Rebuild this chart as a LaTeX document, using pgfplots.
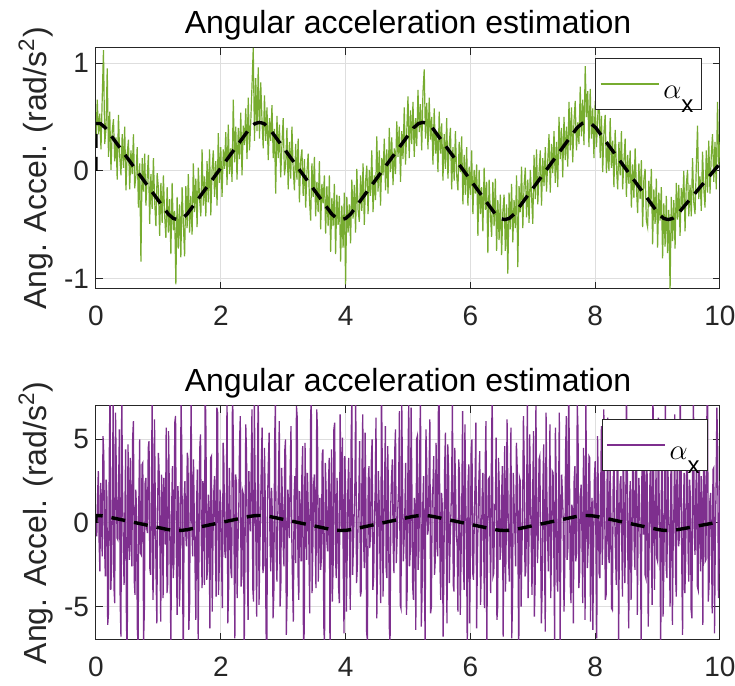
\documentclass[border=0pt]{standalone}
\usepackage{fontspec}
\setmainfont{Liberation Sans}
\usepackage{pgfplots}
\pgfplotsset{compat=1.18}
\definecolor{mgreen}{rgb}{0.466,0.674,0.188}
\definecolor{mpurple}{rgb}{0.494,0.184,0.556}
\definecolor{axgray}{RGB}{38,38,38}
\pgfplotsset{
  mystyle/.style={
    scale only axis, width=312pt, xmin=0, xmax=10,
    xtick={0,2,4,6,8,10}, xticklabels={0,2,4,6,8,10},
    axis line style={axgray, line width=0.5pt},
    tick style={axgray, line width=0.5pt},
    major tick length=3.5pt,
    tick align=inside,
    grid=major, major grid style={black!13, line width=0.5pt},
    tick label style={font=\fontsize{14}{16}\selectfont, text=axgray},
    xticklabel style={yshift=-5pt},
    title style={font=\fontsize{16}{19}\selectfont, at={(0.5,1)}, anchor=base, yshift=1pt},
    ylabel style={font=\fontsize{16}{19}\selectfont, text=axgray, at={([xshift=-30pt]rel axis cs:0,0.5)}, anchor=center},
    ylabel={Ang. Accel. (rad/s\textsuperscript{2})},
    title={Angular acceleration estimation},
    legend cell align=left,
    legend style={font=\fontsize{14}{16}\selectfont, draw=axgray, line width=0.5pt, inner xsep=2pt, inner ysep=2pt, nodes={inner sep=2pt}, anchor=north east},
    legend image code/.code={\draw[#1, line width=0.7pt] (0pt,0pt) -- (29pt,0pt);},
  }
}
\newcommand{\alx}{\rule[-10pt]{0pt}{26pt}$\alpha$\raisebox{-7pt}{\fontsize{12}{12}\selectfont x}}
\begin{document}
\begin{tikzpicture}
% ---------------- top axis ----------------
\begin{axis}[mystyle, at={(0,175.5pt)}, anchor=south west, height=120.5pt,
  ymin=-1.093, ymax=1.139, ytick={-1,0,1}, yticklabels={-1,0,1},
  legend style={at={(0.971,0.959)}}]
\addplot[mgreen, line width=0.6pt] table {
x y
0.00 0.30
0.02 0.66
0.04 0.34
0.06 0.53
0.08 0.20
0.10 0.68
0.12 1.12
0.14 0.25
0.16 0.39
0.18 0.95
0.20 0.13
0.22 0.55
0.24 0.01
0.26 0.37
0.28 0.48
0.30 0.09
0.32 0.31
0.34 -0.08
0.36 0.52
0.38 0.14
0.40 -0.04
0.42 0.34
0.44 0.03
0.46 0.41
0.48 -0.18
0.50 0.16
0.52 0.29
0.54 -0.17
0.56 0.19
0.58 -0.03
0.60 0.34
0.62 -0.16
0.64 -0.04
0.66 0.22
0.68 -0.34
0.70 0.07
0.72 -0.84
0.74 0.12
0.76 -0.19
0.78 0.16
0.80 -0.32
0.82 -0.06
0.84 0.15
0.86 -0.49
0.88 -0.03
0.90 -0.35
0.92 0.12
0.94 -0.28
0.96 -0.51
0.98 -0.02
1.00 -0.16
1.02 -0.60
1.04 -0.11
1.06 -0.48
1.08 -0.04
1.10 -0.41
1.12 -0.62
1.14 -0.15
1.16 -0.57
1.18 -0.26
1.20 -0.77
1.22 -0.11
1.24 -0.55
1.26 -0.37
1.28 -1.05
1.30 -0.24
1.32 -0.72
1.34 -0.31
1.36 -0.80
1.38 -0.15
1.40 -0.49
1.42 -0.79
1.44 -0.14
1.46 -0.53
1.48 -0.03
1.50 -0.57
1.52 -0.23
1.54 -0.59
1.56 0.07
1.58 -0.38
1.60 -0.07
1.62 -0.52
1.64 0.03
1.66 -0.26
1.68 -0.42
1.70 0.20
1.72 -0.32
1.74 -0.05
1.76 -0.42
1.78 0.09
1.80 -0.29
1.82 0.20
1.84 -0.41
1.86 0.01
1.88 0.19
1.90 -0.24
1.92 0.09
1.94 -0.32
1.96 0.35
1.98 -0.11
2.00 0.22
2.02 -0.24
2.04 0.20
2.06 0.02
2.08 0.36
2.10 -0.13
2.12 0.43
2.14 -0.03
2.16 0.21
2.18 -0.10
2.20 0.66
2.22 0.08
2.24 0.41
2.26 -0.08
2.28 0.40
2.30 0.11
2.32 0.54
2.34 -0.04
2.36 0.42
2.38 0.24
2.40 0.58
2.42 0.11
2.44 0.68
2.46 0.19
2.48 0.45
2.50 0.79
2.52 1.14
2.54 0.28
2.56 0.86
2.58 0.37
2.60 0.96
2.62 0.30
2.64 0.82
2.66 0.47
2.68 0.21
2.70 0.70
2.72 0.28
2.74 0.59
2.76 0.10
2.78 0.49
2.80 0.28
2.82 0.61
2.84 0.12
2.86 0.39
2.88 -0.21
2.90 0.51
2.92 0.12
2.94 0.43
2.96 -0.06
2.98 0.25
3.00 0.49
3.02 -0.04
3.04 0.06
3.06 0.40
3.08 -0.17
3.10 0.27
3.12 -0.07
3.14 0.41
3.16 0.03
3.18 -0.18
3.20 0.25
3.22 -0.08
3.24 0.30
3.26 -0.29
3.28 0.10
3.30 0.20
3.32 -0.23
3.34 0.11
3.36 -0.34
3.38 -0.02
3.40 0.16
3.42 -0.25
3.44 -0.46
3.46 0.07
3.48 -0.24
3.50 0.13
3.52 -0.42
3.54 -0.10
3.56 -0.38
3.58 0.09
3.60 -0.54
3.62 -0.12
3.64 -0.30
3.66 -0.04
3.68 -0.58
3.70 -0.14
3.72 -0.51
3.74 -0.04
3.76 -0.75
3.78 -0.25
3.80 -0.51
3.82 -0.12
3.84 -0.77
3.86 -0.22
3.88 -0.50
3.90 -0.23
3.92 -0.84
3.94 -0.32
3.96 -0.71
3.98 -0.20
4.00 -1.05
4.02 -0.24
4.04 -0.57
4.06 -0.31
4.08 -0.67
4.10 -0.08
4.12 -0.44
4.14 -0.13
4.16 -0.57
4.18 0.02
4.20 -0.36
4.22 -0.47
4.24 -0.04
4.26 -0.37
4.28 0.07
4.30 -0.50
4.32 -0.10
4.34 0.05
4.36 -0.40
4.38 0.01
4.40 -0.23
4.42 0.19
4.44 -0.38
4.46 -0.04
4.48 -0.27
4.50 0.32
4.52 -0.19
4.54 0.19
4.56 -0.32
4.58 0.12
4.60 -0.04
4.62 0.30
4.64 -0.18
4.66 0.20
4.68 -0.21
4.70 0.40
4.72 -0.01
4.74 0.31
4.76 -0.13
4.78 0.21
4.80 -0.03
4.82 0.46
4.84 0.13
4.86 0.41
4.88 -0.10
4.90 0.37
4.92 0.11
4.94 0.59
4.96 0.06
4.98 0.37
5.00 0.69
5.02 0.12
5.04 0.56
5.06 0.25
5.08 0.64
5.10 0.13
5.12 0.49
5.14 0.23
5.16 0.75
5.18 0.36
5.20 0.62
5.22 0.19
5.24 0.73
5.26 0.94
5.28 0.30
5.30 0.63
5.32 0.20
5.34 0.68
5.36 0.29
5.38 0.50
5.40 0.06
5.42 0.58
5.44 0.16
5.46 0.35
5.48 -0.01
5.50 0.55
5.52 0.16
5.54 0.44
5.56 -0.09
5.58 0.34
5.60 0.02
5.62 0.49
5.64 -0.07
5.66 0.24
5.68 0.40
5.70 -0.17
5.72 0.22
5.74 -0.09
5.76 0.37
5.78 -0.04
5.80 -0.18
5.82 0.27
5.84 -0.01
5.86 0.32
5.88 -0.31
5.90 0.15
5.92 -0.22
5.94 0.22
5.96 -0.32
5.98 0.04
6.00 -0.22
6.02 0.19
6.04 -0.40
6.06 0.01
6.08 -0.21
6.10 0.06
6.12 -0.60
6.14 0.01
6.16 -0.40
6.18 -0.15
6.20 -0.56
6.22 0.03
6.24 -0.36
6.26 -0.10
6.28 -0.76
6.30 -0.08
6.32 -0.39
6.34 -0.61
6.36 -0.10
6.38 -0.51
6.40 -0.07
6.42 -0.74
6.44 -0.27
6.46 -0.64
6.48 -0.22
6.50 -0.78
6.52 -0.38
6.54 -0.22
6.56 -0.74
6.58 -0.31
6.60 -0.95
6.62 -0.20
6.64 -0.54
6.66 -0.12
6.68 -0.66
6.70 -0.27
6.72 -0.53
6.74 -0.04
6.76 -0.89
6.78 -0.14
6.80 -0.38
6.82 0.04
6.84 -0.53
6.86 -0.14
6.88 0.03
6.90 -0.43
6.92 -0.08
6.94 -0.48
6.96 0.01
6.98 -0.23
7.00 -0.49
7.02 0.15
7.04 -0.26
7.06 0.20
7.08 -0.31
7.10 -0.02
7.12 0.19
7.14 -0.32
7.16 0.12
7.18 -0.14
7.20 0.22
7.22 -0.19
7.24 0.10
7.26 0.34
7.28 -0.20
7.30 0.25
7.32 -0.02
7.34 0.37
7.36 -0.11
7.38 0.27
7.40 -0.15
7.42 0.50
7.44 0.11
7.46 0.40
7.48 -0.06
7.50 0.50
7.52 0.10
7.54 0.41
7.56 0.04
7.58 0.64
7.60 0.19
7.62 0.59
7.64 0.08
7.66 0.46
7.68 0.65
7.70 0.19
7.72 0.45
7.74 0.25
7.76 0.78
7.78 0.32
7.80 0.66
7.82 0.24
7.84 0.97
7.86 0.50
7.88 0.74
7.90 0.22
7.92 0.76
7.94 0.30
7.96 0.58
7.98 0.12
8.00 0.65
8.02 0.22
8.04 0.48
8.06 0.79
8.08 0.12
8.10 0.51
8.12 -0.01
8.14 0.36
8.16 0.52
8.18 -0.02
8.20 0.27
8.22 0.00
8.24 0.49
8.26 0.03
8.28 0.28
8.30 -0.15
8.32 0.38
8.34 0.04
8.36 -0.17
8.38 0.27
8.40 -0.04
8.42 0.37
8.44 -0.17
8.46 0.09
8.48 0.30
8.50 -0.24
8.52 0.15
8.54 -0.12
8.56 0.19
8.58 -0.34
8.60 0.06
8.62 -0.25
8.64 0.21
8.66 -0.15
8.68 -0.39
8.70 0.07
8.72 -0.26
8.74 0.10
8.76 -0.52
8.78 -0.08
8.80 0.02
8.82 -0.46
8.84 -0.52
8.86 -0.09
8.88 -0.33
8.90 0.02
8.92 -0.68
8.94 -0.17
8.96 -0.49
8.98 -0.07
9.00 -0.71
9.02 -0.20
9.04 -0.46
9.06 -0.15
9.08 -0.81
9.10 -0.30
9.12 -0.70
9.14 -0.23
9.16 -0.76
9.18 -0.36
9.20 -1.11
9.22 -0.24
9.24 -0.65
9.26 -0.27
9.28 -0.72
9.30 -0.11
9.32 -0.45
9.34 -0.13
9.36 -0.60
9.38 -0.16
9.40 -0.34
9.42 0.00
9.44 -0.56
9.46 -0.13
9.48 0.01
9.50 -0.42
9.52 -0.13
9.54 -0.42
9.56 0.12
9.58 -0.29
9.60 -0.40
9.62 0.04
9.64 0.42
9.66 -0.26
9.68 -0.05
9.70 -0.37
9.72 0.18
9.74 -0.16
9.76 -0.34
9.78 0.19
9.80 -0.20
9.82 0.28
9.84 -0.21
9.86 0.14
9.88 0.34
9.90 -0.10
9.92 0.27
9.94 -0.17
9.96 0.64
9.98 0.06
10.00 0.27
};
\addlegendentry{\alx}
\addplot[black, line width=1.7pt, dash pattern=on 7pt off 4.5pt, forget plot] coordinates {
(0,0) (0,0.44) (0.07,0.44) (0.15,0.40)
(1.16,-0.40) (1.24,-0.44) (1.31,-0.45) (1.38,-0.44) (1.46,-0.40)
(2.47,0.40) (2.55,0.44) (2.62,0.45) (2.69,0.44) (2.77,0.40)
(3.78,-0.40) (3.86,-0.44) (3.93,-0.45) (4.00,-0.44) (4.08,-0.40)
(5.09,0.40) (5.17,0.44) (5.24,0.45) (5.31,0.44) (5.39,0.40)
(6.40,-0.40) (6.48,-0.44) (6.55,-0.45) (6.62,-0.44) (6.70,-0.40)
(7.71,0.40) (7.79,0.44) (7.86,0.45) (7.93,0.44) (8.01,0.40)
(9.02,-0.40) (9.10,-0.44) (9.17,-0.45) (9.24,-0.44) (9.32,-0.40)
(10,0.07)
};
\end{axis}
% ---------------- bottom axis ----------------
\begin{axis}[mystyle, at={(0,0)}, anchor=south west, height=117pt,
  ymin=-7, ymax=7, ytick={-5,0,5}, yticklabels={-5,0,5},
  legend style={at={(0.981,0.944)}}]
\addplot[mpurple, line width=0.65pt] coordinates {
(0,0.3) (0.0125,-0.8) (0.025,1.6) (0.0375,3.1) (0.05,-1.1) (0.0625,-2.9) (0.075,2.4) (0.0875,0.7) (0.1,-2.0) (0.1125,5.2) (0.125,4.1) (0.1375,-1.4) (0.15,-3.2) (0.1625,2.6) (0.175,1.5) (0.1875,-6.1) (0.2,-5.4) (0.2125,3.7) (0.225,8.2) (0.2375,-4.0)
(0.25,-2.5) (0.2625,1.2) (0.275,7.5) (0.2875,-3.8) (0.3,-4.8) (0.3125,6.6) (0.325,3.3) (0.3375,-0.9) (0.35,-1.0) (0.3625,2.3) (0.375,5.6) (0.3875,-4.7) (0.4,-6.8) (0.4125,7.9) (0.425,2.2) (0.4375,-1.5) (0.45,-3.7) (0.4625,0.4) (0.475,4.4) (0.4875,-5.6)
(0.5,-8.5) (0.5125,4.7) (0.525,1.8) (0.5375,-2.2) (0.55,3.9) (0.5625,-0.5) (0.575,-2.6) (0.5875,5.1) (0.6,6.1) (0.6125,-3.4) (0.625,-4.3) (0.6375,2.0) (0.65,0.8) (0.6625,-6.3) (0.675,-7.4) (0.6875,1.6) (0.7,5.0) (0.7125,-1.8) (0.725,-1.9) (0.7375,3.5)
(0.75,3.6) (0.7625,-7.1) (0.775,-5.2) (0.7875,2.4) (0.8,2.7) (0.8125,-0.3) (0.825,-0.6) (0.8375,4.5) (0.85,4.9) (0.8625,-2.7) (0.875,-3.1) (0.8875,1.0) (0.9,7.8) (0.9125,-4.6) (0.925,-2.4) (0.9375,6.2) (0.95,1.3) (0.9625,-3.0) (0.975,-6.0) (0.9875,0.9)
(1,4.2) (1.0125,3.0) (1.025,-1.7) (1.0375,-5.9) (1.05,2.9) (1.0625,1.5) (1.075,-4.5) (1.0875,2.7) (1.1,0.9) (1.1125,-1.3) (1.125,5.7) (1.1375,-4.2) (1.15,-3.6) (1.1625,5.5) (1.175,2.0) (1.1875,-2.1) (1.2,-7.6) (1.2125,0.8) (1.225,3.4) (1.2375,-3.3)
(1.25,-2.3) (1.2625,6.0) (1.275,6.4) (1.2875,-1.8) (1.3,-5.5) (1.3125,2.2) (1.325,1.1) (1.3375,-5.0) (1.35,-3.0) (1.3625,7.3) (1.375,4.6) (1.3875,-3.1) (1.4,-8.8) (1.4125,1.4) (1.425,2.5) (1.4375,-0.6) (1.45,-1.4) (1.4625,4.2) (1.475,3.8) (1.4875,-6.4)
(1.5,-4.9) (1.5125,2.9) (1.525,7.2) (1.5375,-0.4) (1.55,-2.0) (1.5625,3.8) (1.575,0.4) (1.5875,-2.6) (1.6,-5.8) (1.6125,1.2) (1.625,3.2) (1.6375,-7.0) (1.65,-1.6) (1.6625,4.4) (1.675,5.3) (1.6875,-1.0) (1.7,-3.9) (1.7125,2.5) (1.725,2.1) (1.7375,-3.7)
(1.75,8.4) (1.7625,5.3) (1.775,-3.4) (1.7875,-2.8) (1.8,1.7) (1.8125,0.6) (1.825,-6.3) (1.8375,3.9) (1.85,4.0) (1.8625,-5.3) (1.875,-0.8) (1.8875,1.8) (1.9,2.8) (1.9125,-1.1) (1.925,-4.4) (1.9375,6.9) (1.95,6.6) (1.9625,-4.3) (1.975,-2.7) (1.9875,2.0)
(2,1.0) (2.0125,-2.4) (2.025,-5.1) (2.0375,4.8) (2.05,3.5) (2.0625,-1.6) (2.075,-2.1) (2.0875,0.5) (2.1,7.7) (2.1125,-6.0) (2.125,-4.0) (2.1375,3.3) (2.15,0.6) (2.1625,-2.9) (2.175,-3.3) (2.1875,8.1) (2.2,5.2) (2.2125,-1.2) (2.225,-6.9) (2.2375,2.9)
(2.25,2.4) (2.2625,-4.5) (2.275,-1.2) (2.2875,0.3) (2.3,4.7) (2.3125,6.4) (2.325,-3.8) (2.3375,-3.2) (2.35,1.9) (2.3625,1.7) (2.375,-7.9) (2.3875,-2.0) (2.4,5.9) (2.4125,4.1) (2.425,-2.6) (2.4375,-5.8) (2.45,3.1) (2.4625,0.9) (2.475,-0.5) (2.4875,3.4)
(2.5,6.8) (2.5125,-3.9) (2.525,-4.7) (2.5375,7.4) (2.55,2.3) (2.5625,-1.1) (2.575,-5.6) (2.5875,2.6) (2.6,8.6) (2.6125,-4.9) (2.625,-1.8) (2.6375,0.7) (2.65,3.7) (2.6625,5.7) (2.675,-3.0) (2.6875,-2.5) (2.7,4.5) (2.7125,1.3) (2.725,-6.5) (2.7375,-7.5)
(2.75,1.4) (2.7625,3.6) (2.775,5.4) (2.7875,-0.8) (2.8,-2.9) (2.8125,2.1) (2.825,0.7) (2.8375,-5.7) (2.85,-4.2) (2.8625,4.9) (2.875,7.1) (2.8875,-1.9) (2.9,-3.5) (2.9125,0.2) (2.925,2.6) (2.9375,6.1) (2.95,-5.0) (2.9625,-3.6) (2.975,3.3) (2.9875,1.4)
(3,-1.3) (3.0125,-2.6) (3.025,4.3) (3.0375,5.0) (3.05,-6.7) (3.0625,-4.4) (3.075,2.0) (3.0875,1.1) (3.1,-0.9) (3.1125,3.2) (3.125,5.8) (3.1375,-0.7) (3.15,-3.7) (3.1625,-5.9) (3.175,1.6) (3.1875,2.8) (3.2,-2.4) (3.2125,7.0) (3.225,6.3) (3.2375,-3.0)
(3.25,-4.6) (3.2625,1.9) (3.275,0.5) (3.2875,-2.3) (3.3,3.0) (3.3125,4.6) (3.325,-7.3) (3.3375,-6.5) (3.35,4.8) (3.3625,0.8) (3.375,-2.2) (3.3875,3.0) (3.4,1.1) (3.4125,-1.4) (3.425,-5.4) (3.4375,5.9) (3.45,7.6) (3.4625,-4.2) (3.475,-1.5) (3.4875,2.3)
(3.5,2.9) (3.5125,-0.6) (3.525,-3.9) (3.5375,6.8) (3.55,5.5) (3.5625,-3.5) (3.575,-0.7) (3.5875,1.5) (3.6,-2.8) (3.6125,-2.1) (3.625,4.1) (3.6375,4.4) (3.65,-6.1) (3.6625,-7.3) (3.675,3.6) (3.6875,2.0) (3.7,-1.1) (3.7125,-1.7) (3.725,2.2) (3.7375,3.9)
(3.75,-8.1) (3.7625,0.5) (3.775,4.4) (3.7875,-4.7) (3.8,-2.5) (3.8125,5.6) (3.825,6.0) (3.8375,-1.9) (3.85,-3.3) (3.8625,2.7) (3.875,0.9) (3.8875,-3.8) (3.9,-4.8) (3.9125,6.5) (3.925,2.7) (3.9375,-0.4) (3.95,5.1) (3.9625,-2.6) (3.975,-6.6) (3.9875,4.0)
(4,1.8) (4.0125,-5.3) (4.025,-2.0) (4.0375,2.2) (4.05,3.9) (4.0625,-1.2) (4.075,-5.2) (4.0875,4.7) (4.1,7.4) (4.1125,-3.1) (4.125,-1.4) (4.1375,0.6) (4.15,2.5) (4.1625,7.7) (4.175,-3.6) (4.1875,-2.7) (4.2,0.3) (4.2125,1.6) (4.225,4.9) (4.2375,-4.4)
(4.25,-4.1) (4.2625,3.1) (4.275,6.5) (4.2875,-0.9) (4.3,-2.7) (4.3125,5.4) (4.325,1.3) (4.3375,-6.6) (4.35,-7.0) (4.3625,2.5) (4.375,3.4) (4.3875,-1.5) (4.4,-0.6) (4.4125,3.7) (4.425,5.0) (4.4375,-4.0) (4.45,-3.2) (4.4625,0.4) (4.475,2.0) (4.4875,6.3)
(4.5,-5.7) (4.5125,-2.0) (4.525,3.1) (4.5375,1.3) (4.55,-1.9) (4.5625,-4.8) (4.575,8.3) (4.5875,3.5) (4.6,-4.4) (4.6125,-0.2) (4.625,2.3) (4.6375,5.8) (4.65,-2.8) (4.6625,-3.3) (4.675,4.6) (4.6875,1.7) (4.7,-6.2) (4.7125,-7.2) (4.725,1.2) (4.7375,2.8)
(4.75,3.8) (4.7625,-1.4) (4.775,-3.0) (4.7875,4.3) (4.8,5.6) (4.8125,-2.4) (4.825,-1.0) (4.8375,0.9) (4.85,2.1) (4.8625,6.7) (4.875,-4.9) (4.8875,-5.1) (4.9,7.3) (4.9125,2.4) (4.925,-2.3) (4.9375,-1.0) (4.95,0.8) (4.9625,3.6) (4.975,-5.5) (4.9875,-3.9)
(5,4.0) (5.0125,7.2) (5.025,-2.6) (5.0375,-1.6) (5.05,6.9) (5.0625,2.0) (5.075,-3.8) (5.0875,-4.6) (5.1,1.5) (5.1125,0.8) (5.125,-6.4) (5.1375,5.0) (5.15,5.2) (5.1625,-2.8) (5.175,-1.6) (5.1875,3.9) (5.2,8.0) (5.2125,-6.2) (5.225,-4.3) (5.2375,1.1)
(5.25,2.8) (5.2625,-3.4) (5.275,-7.1) (5.2875,5.6) (5.3,3.6) (5.3125,-0.7) (5.325,-0.4) (5.3375,2.9) (5.35,6.2) (5.3625,-5.4) (5.375,-5.0) (5.3875,1.6) (5.4,2.2) (5.4125,4.0) (5.425,-3.1) (5.4375,-2.2) (5.45,4.8) (5.4625,-0.6) (5.475,-2.0) (5.4875,6.9)
(5.5,7.5) (5.5125,-2.5) (5.525,-4.6) (5.5375,1.8) (5.55,1.0) (5.5625,-6.8) (5.575,-2.9) (5.5875,3.3) (5.6,5.4) (5.6125,-1.0) (5.625,-6.0) (5.6375,4.7) (5.65,3.2) (5.6625,-3.6) (5.675,-1.2) (5.6875,0.5) (5.7,2.6) (5.7125,7.4) (5.725,-3.7) (5.7375,-4.1)
(5.75,4.5) (5.7625,2.1) (5.775,-0.8) (5.7875,-1.3) (5.8,-5.3) (5.8125,3.8) (5.825,2.9) (5.8375,-5.5) (5.85,-2.1) (5.8625,1.2) (5.875,6.7) (5.8875,-2.6) (5.9,-4.0) (5.9125,5.9) (5.925,1.4) (5.9375,-0.9) (5.95,-7.7) (5.9625,2.4) (5.975,3.5) (5.9875,-6.0)
(6,-1.7) (6.0125,4.4) (6.025,5.0) (6.0375,-3.0) (6.05,-3.4) (6.0625,0.3) (6.075,2.4) (6.0875,6.0) (6.1,-6.3) (6.1125,-2.0) (6.125,0.6) (6.1375,2.8) (6.15,4.3) (6.1625,-4.9) (6.175,-2.5) (6.1875,1.5) (6.2,3.0) (6.2125,-1.1) (6.225,-5.1) (6.2375,3.7)
(6.25,6.1) (6.2625,-7.6) (6.275,-1.3) (6.2875,2.6) (6.3,2.7) (6.3125,-0.8) (6.325,-4.2) (6.3375,4.2) (6.35,7.9) (6.3625,-3.2) (6.375,-3.0) (6.3875,1.0) (6.4,0.9) (6.4125,5.1) (6.425,-5.8) (6.4375,-5.0) (6.45,3.9) (6.4625,2.2) (6.475,-2.2) (6.4875,-1.6)
(6.5,1.6) (6.5125,3.4) (6.525,-6.8) (6.5375,0.6) (6.55,4.6) (6.5625,-4.1) (6.575,-0.5) (6.5875,6.2) (6.6,2.0) (6.6125,-2.3) (6.625,-3.5) (6.6375,1.9) (6.65,5.7) (6.6625,-6.9) (6.675,-4.7) (6.6875,3.0) (6.7,1.2) (6.7125,-0.5) (6.725,-2.6) (6.7375,4.8)
(6.75,3.3) (6.7625,-1.7) (6.775,-8.0) (6.7875,2.7) (6.8,2.5) (6.8125,-5.0) (6.825,-1.8) (6.8375,0.9) (6.85,6.4) (6.8625,3.6) (6.875,-3.2) (6.8875,-2.9) (6.9,0.4) (6.9125,7.5) (6.925,-4.5) (6.9375,-1.2) (6.95,5.3) (6.9625,2.0) (6.975,-1.1) (6.9875,-4.3)
(7,2.2) (7.0125,5.5) (7.025,-5.6) (7.0375,-3.6) (7.05,7.0) (7.0625,1.4) (7.075,-2.4) (7.0875,-0.7) (7.1,3.8) (7.1125,4.0) (7.125,-0.9) (7.1375,-6.0) (7.15,-3.9) (7.1625,2.3) (7.175,4.7) (7.1875,-2.0) (7.2,-6.5) (7.2125,6.6) (7.225,1.9) (7.2375,-1.0)
(7.25,-2.9) (7.2625,0.7) (7.275,5.9) (7.2875,-4.5) (7.3,-1.5) (7.3125,3.1) (7.325,3.0) (7.3375,-1.8) (7.35,-7.2) (7.3625,5.7) (7.375,2.6) (7.3875,-3.4) (7.4,-4.1) (7.4125,1.2) (7.425,6.6) (7.4375,-7.0) (7.45,-0.7) (7.4625,2.9) (7.475,1.7) (7.4875,0.2)
(7.5,-5.3) (7.5125,-2.7) (7.525,4.2) (7.5375,6.4) (7.55,-2.2) (7.5625,-1.5) (7.575,8.5) (7.5875,3.3) (7.6,-3.6) (7.6125,-4.8) (7.625,1.1) (7.6375,0.8) (7.65,-6.0) (7.6625,2.5) (7.675,3.4) (7.6875,-2.3) (7.7,-1.9) (7.7125,7.1) (7.725,5.5) (7.7375,-3.9)
(7.75,-3.0) (7.7625,1.6) (7.775,2.3) (7.7875,-0.6) (7.8,-4.8) (7.8125,4.5) (7.825,0.8) (7.8375,-5.8) (7.85,7.2) (7.8625,2.2) (7.875,-2.7) (7.8875,-1.4) (7.9,4.0) (7.9125,3.9) (7.925,-5.9) (7.9375,0.5) (7.95,1.5) (7.9625,-6.4) (7.975,-1.2) (7.9875,2.7)
(8,3.7) (8.0125,-1.2) (8.025,-6.9) (8.0375,5.2) (8.05,2.1) (8.0625,-3.0) (8.075,-3.3) (8.0875,1.8) (8.1,5.8) (8.1125,-2.5) (8.125,-0.6) (8.1375,6.8) (8.15,2.9) (8.1625,-4.6) (8.175,-4.3) (8.1875,0.9) (8.2,6.3) (8.2125,-1.9) (8.225,-2.4) (8.2375,3.4)
(8.25,1.0) (8.2625,-5.1) (8.275,-5.2) (8.2875,2.0) (8.3,4.4) (8.3125,0.4) (8.325,-1.7) (8.3375,-3.7) (8.35,3.2) (8.3625,6.1) (8.375,-7.5) (8.3875,-1.1) (8.4,2.4) (8.4125,2.8) (8.425,-0.9) (8.4375,-4.4) (8.45,5.1) (8.4625,1.5) (8.475,-3.6) (8.4875,-0.8)
(8.5,7.8) (8.5125,4.6) (8.525,-2.8) (8.5375,-6.3) (8.55,1.3) (8.5625,2.5) (8.575,-4.6) (8.5875,-1.6) (8.6,3.6) (8.6125,3.0) (8.625,-1.4) (8.6375,-2.8) (8.65,6.0) (8.6625,5.3) (8.675,-5.5) (8.6875,-0.5) (8.7,2.7) (8.7125,1.1) (8.725,-2.0) (8.7375,-7.4)
(8.75,4.3) (8.7625,2.3) (8.775,-0.7) (8.7875,5.9) (8.8,-3.1) (8.8125,-3.3) (8.825,5.7) (8.8375,0.6) (8.85,-6.2) (8.8625,-1.9) (8.875,2.0) (8.8875,4.2) (8.9,-1.6) (8.9125,-4.9) (8.925,8.2) (8.9375,2.6) (8.95,-4.0) (8.9625,0.3) (8.975,3.1) (8.9875,-2.1)
(9,-2.3) (9.0125,6.3) (9.025,1.4) (9.0375,-1.0) (9.05,-7.8) (9.0625,3.4) (9.075,4.9) (9.0875,-5.6) (9.1,-2.6) (9.1125,1.7) (9.125,7.0) (9.1375,-2.7) (9.15,-3.3) (9.1625,4.7) (9.175,0.5) (9.1875,-0.8) (9.2,-5.0) (9.2125,2.9) (9.225,3.8) (9.2375,-6.1)
(9.25,-1.0) (9.2625,1.0) (9.275,6.5) (9.2875,-3.1) (9.3,-4.4) (9.3125,5.0) (9.325,2.2) (9.3375,-1.4) (9.35,-0.8) (9.3625,7.8) (9.375,4.1) (9.3875,-2.4) (9.4,-6.7) (9.4125,0.5) (9.425,3.0) (9.4375,-4.2) (9.45,-2.1) (9.4625,3.3) (9.475,5.4) (9.4875,-1.5)
(9.5,-3.5) (9.5125,2.6) (9.525,1.6) (9.5375,-5.2) (9.55,-5.7) (9.5625,4.0) (9.575,7.6) (9.5875,-0.7) (9.6,-1.9) (9.6125,1.9) (9.625,3.5) (9.6375,-3.8) (9.65,-4.0) (9.6625,6.2) (9.675,0.7) (9.6875,-2.9) (9.7,2.8) (9.7125,0.6) (9.725,-6.1) (9.7375,4.5)
(9.75,4.6) (9.7625,-2.3) (9.775,-2.2) (9.7875,5.8) (9.8,8.7) (9.8125,-4.7) (9.825,-3.7) (9.8375,1.3) (9.85,1.8) (9.8625,-0.9) (9.875,-5.4) (9.8875,3.2) (9.9,3.3) (9.9125,-6.6) (9.925,-0.9) (9.9375,2.1) (9.95,6.9) (9.9625,4.4) (9.975,-4.5) (9.9875,-1.7)
(10,2.5)
};
\addlegendentry{\alx}
\addplot[black, line width=1.7pt, dash pattern=on 7pt off 4.5pt, forget plot] coordinates {
(0,0) (0,0.44) (0.07,0.44) (0.15,0.40)
(1.16,-0.40) (1.24,-0.44) (1.31,-0.45) (1.38,-0.44) (1.46,-0.40)
(2.47,0.40) (2.55,0.44) (2.62,0.45) (2.69,0.44) (2.77,0.40)
(3.78,-0.40) (3.86,-0.44) (3.93,-0.45) (4.00,-0.44) (4.08,-0.40)
(5.09,0.40) (5.17,0.44) (5.24,0.45) (5.31,0.44) (5.39,0.40)
(6.40,-0.40) (6.48,-0.44) (6.55,-0.45) (6.62,-0.44) (6.70,-0.40)
(7.71,0.40) (7.79,0.44) (7.86,0.45) (7.93,0.44) (8.01,0.40)
(9.02,-0.40) (9.10,-0.44) (9.17,-0.45) (9.24,-0.44) (9.32,-0.40)
(10,0.07)
};
\end{axis}
\pgfresetboundingbox
\useasboundingbox (-48pt,-23pt) rectangle (319.5pt,320pt);
\end{tikzpicture}
\end{document}
